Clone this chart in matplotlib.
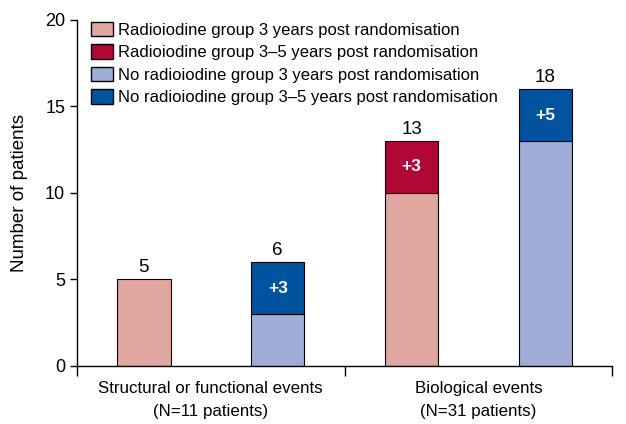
import matplotlib.pyplot as plt
from matplotlib.patches import Patch

plt.rcParams['font.family'] = ['Liberation Sans', 'DejaVu Sans']

groups = ["Structural or functional events\n(N=11 patients)", "Biological events\n(N=31 patients)"]
# segment heights as drawn in the figure
radio_3y = [5, 10]
radio_3to5 = [0, 3]
noradio_3y = [3, 13]
noradio_3to5 = [3, 3]
# numbers printed on the figure
radio_totals = ["5", "13"]
radio_added = ["", "+3"]
noradio_totals = ["6", "18"]
noradio_added = ["+3", "+5"]

c_radio_3y = "#E0A7A1"
c_radio_3to5 = "#B00734"
c_noradio_3y = "#A0AED7"
c_noradio_3to5 = "#00539E"

fig = plt.figure(figsize=(6.26, 4.24), dpi=100)
ax = fig.add_axes([0.123, 0.137, 0.855, 0.816])

w = 0.4
for i in range(len(groups)):
    xr = 2 * i
    xn = 2 * i + 1
    ax.bar(xr, radio_3y[i], w, color=c_radio_3y, edgecolor="black", linewidth=0.8)
    if radio_3to5[i]:
        ax.bar(xr, radio_3to5[i], w, bottom=radio_3y[i], color=c_radio_3to5, edgecolor="black", linewidth=0.8)
        ax.text(xr, radio_3y[i] + radio_3to5[i] / 2, radio_added[i], color="white",
                ha="center", va="center", fontsize=12.5, fontweight="bold")
    ax.text(xr, radio_3y[i] + radio_3to5[i] + 0.2, radio_totals[i],
            ha="center", va="bottom", fontsize=13.5)
    ax.bar(xn, noradio_3y[i], w, color=c_noradio_3y, edgecolor="black", linewidth=0.8)
    ax.bar(xn, noradio_3to5[i], w, bottom=noradio_3y[i], color=c_noradio_3to5, edgecolor="black", linewidth=0.8)
    ax.text(xn, noradio_3y[i] + noradio_3to5[i] / 2, noradio_added[i], color="white",
            ha="center", va="center", fontsize=12.5, fontweight="bold")
    ax.text(xn, noradio_3y[i] + noradio_3to5[i] + 0.2, noradio_totals[i],
            ha="center", va="bottom", fontsize=13.5)

ax.set_xlim(-0.5, 3.5)
ax.set_ylim(0, 20)
ax.set_yticks([0, 5, 10, 15, 20])
ax.set_xticks([-0.5, 1.5, 3.5])
ax.set_xticklabels([])
ax.tick_params(axis="x", length=7, width=1)
ax.tick_params(axis="y", length=5, width=1, labelsize=13)
for i, g in enumerate(groups):
    ax.text(2 * i + 0.5, -0.9, g, ha="center", va="top", fontsize=12.2, linespacing=1.65)
for s in ["top", "right"]:
    ax.spines[s].set_visible(False)
ax.spines["left"].set_linewidth(1)
ax.spines["bottom"].set_linewidth(1)
ax.set_ylabel("Number of patients", fontsize=13.5, labelpad=12)

handles = [
    Patch(facecolor=c_radio_3y, edgecolor="black", label="Radioiodine group 3 years post randomisation"),
    Patch(facecolor=c_radio_3to5, edgecolor="black", label="Radioiodine group 3\u20135 years post randomisation"),
    Patch(facecolor=c_noradio_3y, edgecolor="black", label="No radioiodine group 3 years post randomisation"),
    Patch(facecolor=c_noradio_3to5, edgecolor="black", label="No radioiodine group 3\u20135 years post randomisation"),
]
ax.legend(handles=handles, loc="upper left", bbox_to_anchor=(0.026, 0.995), frameon=False,
          fontsize=12, handlelength=1.35, handleheight=0.95, handletextpad=0.3, labelspacing=0.4,
          borderaxespad=0, borderpad=0)

fig.savefig("out.png", dpi=100)
